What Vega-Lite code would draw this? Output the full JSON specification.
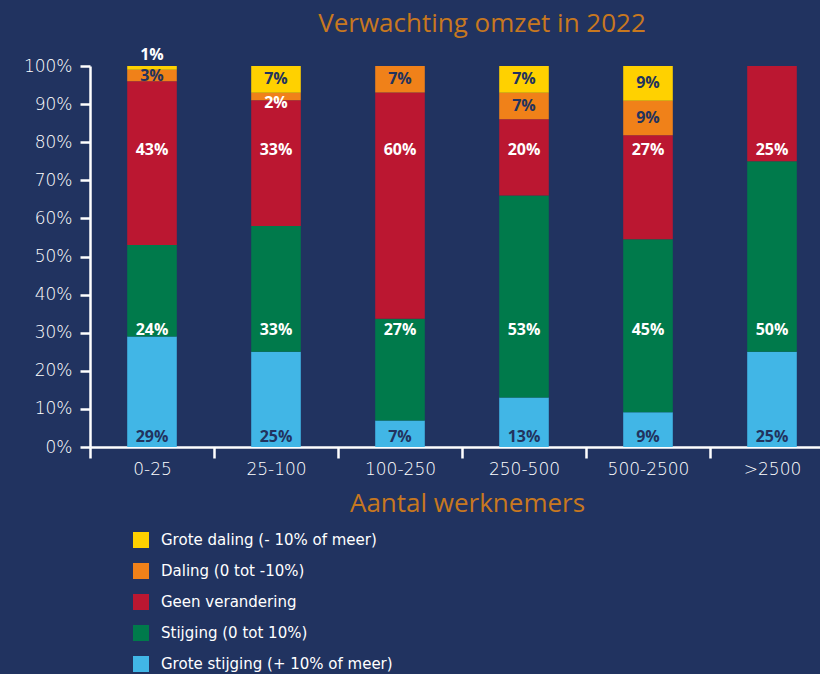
{
  "$schema": "https://vega.github.io/schema/vega-lite/v6.json",
  "autosize": {"type": "none"},
  "width": 730,
  "height": 381,
  "padding": {"left": 90, "top": 66, "right": 0, "bottom": 227},
  "background": "#213360",
  "title": {"text": "Verwachting omzet in 2022", "color": "#c8781f", "fontSize": 26, "font": "Open Sans", "fontWeight": "normal", "anchor": "middle", "dx": 27, "offset": 10},
  "data": {"values": [
    {"cat": "0-25", "series": "Grote stijging (+ 10% of meer)", "value": 0.29},
    {"cat": "0-25", "series": "Stijging (0 tot 10%)", "value": 0.24},
    {"cat": "0-25", "series": "Geen verandering", "value": 0.43},
    {"cat": "0-25", "series": "Daling (0 tot -10%)", "value": 0.03},
    {"cat": "0-25", "series": "Grote daling (- 10% of meer)", "value": 0.01},
    {"cat": "25-100", "series": "Grote stijging (+ 10% of meer)", "value": 0.25},
    {"cat": "25-100", "series": "Stijging (0 tot 10%)", "value": 0.33},
    {"cat": "25-100", "series": "Geen verandering", "value": 0.33},
    {"cat": "25-100", "series": "Daling (0 tot -10%)", "value": 0.02},
    {"cat": "25-100", "series": "Grote daling (- 10% of meer)", "value": 0.07},
    {"cat": "100-250", "series": "Grote stijging (+ 10% of meer)", "value": 0.07},
    {"cat": "100-250", "series": "Stijging (0 tot 10%)", "value": 0.27},
    {"cat": "100-250", "series": "Geen verandering", "value": 0.60},
    {"cat": "100-250", "series": "Daling (0 tot -10%)", "value": 0.07},
    {"cat": "250-500", "series": "Grote stijging (+ 10% of meer)", "value": 0.13},
    {"cat": "250-500", "series": "Stijging (0 tot 10%)", "value": 0.53},
    {"cat": "250-500", "series": "Geen verandering", "value": 0.20},
    {"cat": "250-500", "series": "Daling (0 tot -10%)", "value": 0.07},
    {"cat": "250-500", "series": "Grote daling (- 10% of meer)", "value": 0.07},
    {"cat": "500-2500", "series": "Grote stijging (+ 10% of meer)", "value": 0.09},
    {"cat": "500-2500", "series": "Stijging (0 tot 10%)", "value": 0.45},
    {"cat": "500-2500", "series": "Geen verandering", "value": 0.27},
    {"cat": "500-2500", "series": "Daling (0 tot -10%)", "value": 0.09},
    {"cat": "500-2500", "series": "Grote daling (- 10% of meer)", "value": 0.09},
    {"cat": ">2500", "series": "Grote stijging (+ 10% of meer)", "value": 0.25},
    {"cat": ">2500", "series": "Stijging (0 tot 10%)", "value": 0.50},
    {"cat": ">2500", "series": "Geen verandering", "value": 0.25}
  ]},
  "transform": [
    {"calculate": "indexof(['Grote daling (- 10% of meer)','Daling (0 tot -10%)','Geen verandering','Stijging (0 tot 10%)','Grote stijging (+ 10% of meer)'], datum.series)", "as": "k"}
  ],
  "encoding": {
    "x": {
      "field": "cat", "type": "nominal",
      "sort": ["0-25", "25-100", "100-250", "250-500", "500-2500", ">2500"],
      "scale": {"range": [0, 744], "paddingInner": 0, "paddingOuter": 0},
      "axis": {
        "title": "Aantal werknemers", "titleColor": "#c8781f", "titleFont": "Open Sans", "titleFontSize": 26, "titleFontWeight": "normal", "titlePadding": 13, "titleX": 377,
        "labelColor": "#ffffff", "labelFont": "DejaVu Sans", "labelFontWeight": 300, "labelFontSize": 17, "labelAngle": 0, "labelPadding": 3,
        "domainColor": "#ffffff", "domainWidth": 2.5, "tickColor": "#ffffff", "tickWidth": 2.5, "tickSize": 11, "tickBand": "extent", "grid": false
      }
    },
    "order": {"field": "k", "type": "quantitative", "sort": "descending"}
  },
  "layer": [
    {
      "mark": {"type": "bar", "width": {"band": 0.4}},
      "encoding": {
        "y": {
          "field": "value", "type": "quantitative", "stack": "normalize",
          "scale": {"domain": [0, 1], "nice": false},
          "axis": {"title": null, "format": ".0%", "values": [0, 0.1, 0.2, 0.3, 0.4, 0.5, 0.6, 0.7, 0.8, 0.9, 1]}
        },
        "color": {
          "field": "series", "type": "nominal",
          "scale": {
            "domain": ["Grote daling (- 10% of meer)", "Daling (0 tot -10%)", "Geen verandering", "Stijging (0 tot 10%)", "Grote stijging (+ 10% of meer)"],
            "range": ["#ffd100", "#f08119", "#bb1731", "#007a4b", "#41b6e6"]
          },
          "legend": {
            "title": null, "orient": "none", "legendX": 43, "legendY": 466, "direction": "vertical",
            "symbolType": "square", "symbolSize": 256, "symbolStrokeWidth": 0, "symbolOpacity": 1,
            "labelColor": "#ffffff", "labelFont": "DejaVu Sans", "labelFontSize": 15, "labelOffset": 12, "rowPadding": 15, "padding": 0, "labelLimit": 400
          }
        }
      }
    },
    {
      "mark": {"type": "text", "font": "Open Sans", "fontWeight": "bold", "fontSize": 16, "color": "#22335e", "baseline": "middle"},
      "encoding": {
        "y": {"field": "value", "type": "quantitative", "stack": "normalize", "bandPosition": 0.5, "axis": {"title": null, "format": ".0%", "values": [0, 0.1, 0.2, 0.3, 0.4, 0.5, 0.6, 0.7, 0.8, 0.9, 1]}},
        "text": {"condition": {"test": "(datum.k === 0 || datum.k === 1) && datum.value >= 0.025", "field": "value", "format": ".0%"}, "value": ""}
      }
    },
    {
      "mark": {"type": "text", "font": "Open Sans", "fontWeight": "bold", "fontSize": 16, "color": "#ffffff", "baseline": "middle", "dy": -11},
      "encoding": {
        "y": {"field": "value", "type": "quantitative", "stack": "normalize", "axis": {"title": null, "format": ".0%", "values": [0, 0.1, 0.2, 0.3, 0.4, 0.5, 0.6, 0.7, 0.8, 0.9, 1]}},
        "text": {"condition": {"test": "datum.k === 0 && datum.value < 0.025", "field": "value", "format": ".0%"}, "value": ""}
      }
    },
    {
      "mark": {"type": "text", "font": "Open Sans", "fontWeight": "bold", "fontSize": 16, "color": "#ffffff", "baseline": "middle", "dy": 3},
      "encoding": {
        "y": {"field": "value", "type": "quantitative", "stack": "normalize", "bandPosition": 0, "axis": {"title": null, "format": ".0%", "values": [0, 0.1, 0.2, 0.3, 0.4, 0.5, 0.6, 0.7, 0.8, 0.9, 1]}},
        "text": {"condition": {"test": "datum.k === 1 && datum.value < 0.025", "field": "value", "format": ".0%"}, "value": ""}
      }
    },
    {
      "transform": [{"filter": "datum.k === 4"}],
      "mark": {"type": "text", "font": "Open Sans", "fontWeight": "bold", "fontSize": 16, "color": "#22335e", "baseline": "middle"},
      "encoding": {
        "y": {"datum": 0.026, "type": "quantitative", "axis": {"title": null, "format": ".0%", "values": [0, 0.1, 0.2, 0.3, 0.4, 0.5, 0.6, 0.7, 0.8, 0.9, 1]}},
        "text": {"field": "value", "format": ".0%"}
      }
    },
    {
      "transform": [{"filter": "datum.k === 3"}],
      "mark": {"type": "text", "font": "Open Sans", "fontWeight": "bold", "fontSize": 16, "color": "#ffffff", "baseline": "middle"},
      "encoding": {
        "y": {"datum": 0.307, "type": "quantitative", "axis": {"title": null, "format": ".0%", "values": [0, 0.1, 0.2, 0.3, 0.4, 0.5, 0.6, 0.7, 0.8, 0.9, 1]}},
        "text": {"field": "value", "format": ".0%"}
      }
    },
    {
      "transform": [{"filter": "datum.k === 2"}],
      "mark": {"type": "text", "font": "Open Sans", "fontWeight": "bold", "fontSize": 16, "color": "#ffffff", "baseline": "middle"},
      "encoding": {
        "y": {"datum": 0.78, "type": "quantitative", "axis": {"title": null, "format": ".0%", "values": [0, 0.1, 0.2, 0.3, 0.4, 0.5, 0.6, 0.7, 0.8, 0.9, 1]}},
        "text": {"field": "value", "format": ".0%"}
      }
    }
  ],
  "config": {
    "view": {"stroke": null},
    "axisY": {
      "labelOverlap": false, "labelColor": "#ffffff", "labelFont": "DejaVu Sans", "labelFontWeight": 300, "labelFontSize": 17, "labelPadding": 8,
      "domainColor": "#ffffff", "domainWidth": 2.5, "tickColor": "#ffffff", "tickWidth": 2.5, "tickSize": 10, "grid": false
    }
  }
}
